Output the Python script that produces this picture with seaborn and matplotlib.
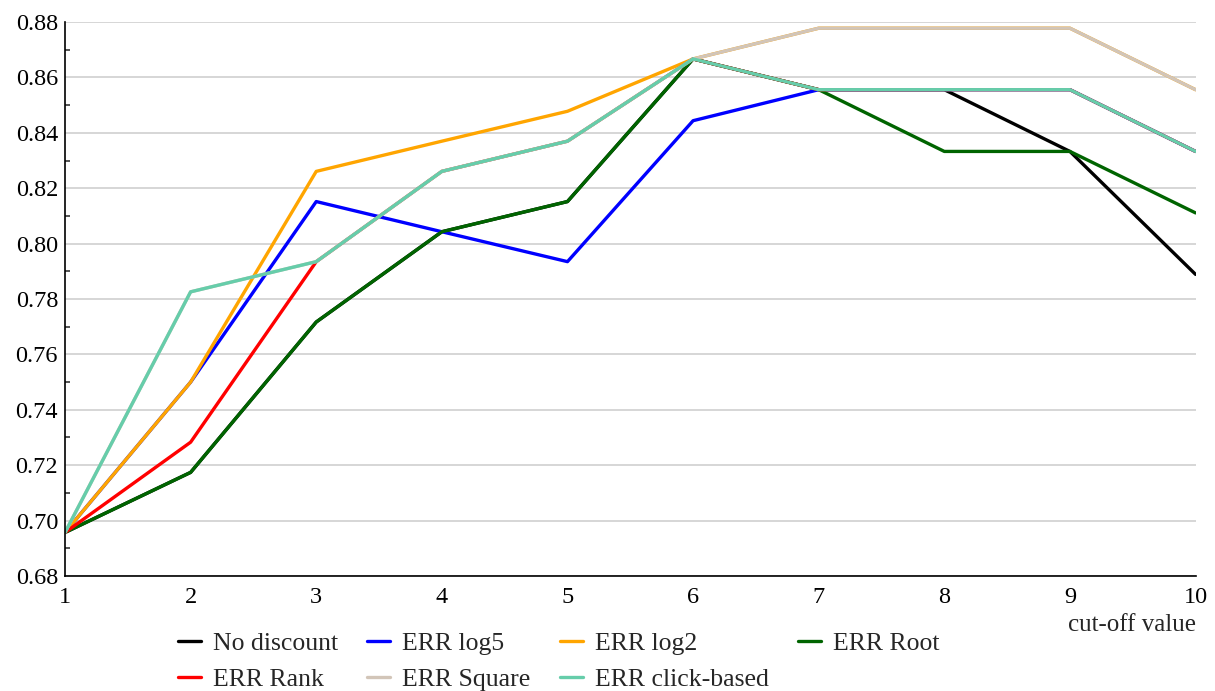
import pandas as pd
import seaborn as sns
import matplotlib.pyplot as plt
from matplotlib.ticker import MultipleLocator

cutoffs = [1, 2, 3, 4, 5, 6, 7, 8, 9, 10]

no_discount = [0.6957, 0.7174, 0.7717, 0.8043, 0.8152, 0.8667, 0.8556, 0.8556, 0.8333, 0.7889]
err_log5 = [0.6957, 0.7500, 0.8152, 0.8043, 0.7935, 0.8444, 0.8556, 0.8556, 0.8556, 0.8333]
err_log2 = [0.6957, 0.7500, 0.8261, 0.8370, 0.8478, 0.8667, 0.8778, 0.8778, 0.8778, 0.8556]
err_root = [0.6957, 0.7174, 0.7717, 0.8043, 0.8152, 0.8667, 0.8556, 0.8333, 0.8333, 0.8111]
err_rank = [0.6957, 0.7283, 0.7935, 0.8261, 0.8370, 0.8667, 0.8556, 0.8556, 0.8556, 0.8333]
err_square = [0.6957, 0.7826, 0.7935, 0.8261, 0.8370, 0.8667, 0.8778, 0.8778, 0.8778, 0.8556]
err_click = [0.6957, 0.7826, 0.7935, 0.8261, 0.8370, 0.8667, 0.8556, 0.8556, 0.8556, 0.8333]

methods = ['No discount', 'ERR log5', 'ERR log2', 'ERR Root',
           'ERR Rank', 'ERR Square', 'ERR click-based']
series = [no_discount, err_log5, err_log2, err_root, err_rank, err_square, err_click]
colors = ['#000000', '#0000ff', '#ffa500', '#006400', '#ff0000', '#d2c5b8', '#66cdaa']

rows = []
for name, vals in zip(methods, series):
    for c, v in zip(cutoffs, vals):
        rows.append({'cutoff': c, 'value': v, 'method': name})
df = pd.DataFrame(rows)

sns.set_style('white')
plt.rcParams['font.family'] = ['Liberation Serif', 'DejaVu Serif']
plt.rcParams['font.size'] = 18

fig = plt.figure(figsize=(12.15, 6.91), dpi=100)
ax = fig.add_axes([0.0535, 0.1665, 0.9305, 0.8015])

sns.lineplot(data=df, x='cutoff', y='value', hue='method', hue_order=methods,
             palette=dict(zip(methods, colors)), linewidth=2.4, ax=ax, legend=False)

ax.set_xlim(1, 10)
ax.set_ylim(0.68, 0.88)
ax.set_xticks(cutoffs)
ax.yaxis.set_major_locator(MultipleLocator(0.02))
ax.yaxis.set_minor_locator(MultipleLocator(0.01))
ax.yaxis.set_major_formatter(plt.FormatStrFormatter('%.2f'))
ax.grid(axis='y', color='#d6d6d6', linewidth=1.4)
ax.set_axisbelow(True)
for s in ['top', 'right']:
    ax.spines[s].set_visible(False)
for s in ['left', 'bottom']:
    ax.spines[s].set_color('black')
    ax.spines[s].set_linewidth(1.2)
ax.tick_params(axis='both', which='major', direction='in', length=6, width=1.1,
               labelsize=17.5, colors='black', pad=5)
ax.tick_params(axis='x', which='major', pad=8)
ax.tick_params(axis='y', which='minor', direction='in', length=3.6, width=1.1,
               left=True)
ax.set_xlabel('')
ax.set_ylabel('')
ax.text(1.0, -0.068, 'cut-off value', transform=ax.transAxes, ha='right',
        va='top', fontsize=18)

# legend in row order: reorder for column-major fill
handles = {m: plt.Line2D([], [], color=c, linewidth=2.4) for m, c in zip(methods, colors)}
order = ['No discount', 'ERR Rank', 'ERR log5', 'ERR Square',
         'ERR log2', 'ERR click-based', 'ERR Root']
fig.legend([handles[m] for m in order], order, loc='upper left',
           bbox_to_anchor=(178 / 1215, 1 - 632 / 691), ncol=4, frameon=False,
           fontsize=18.5, handlelength=0.9, handletextpad=0.45,
           columnspacing=1.15, labelspacing=0.5, borderpad=0, borderaxespad=0)

fig.savefig('out.png', dpi=100)
